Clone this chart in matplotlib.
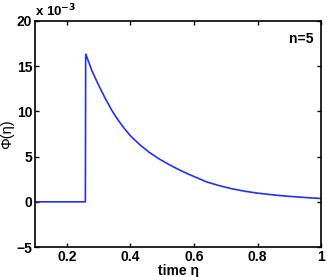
import matplotlib.pyplot as plt
import numpy as np

plt.rcParams['font.family'] = ['Liberation Sans', 'DejaVu Sans']

# time eta, values
eta = [0.1, 0.2585, 0.2595, 0.26, 0.28, 0.30, 0.32, 0.34, 0.36, 0.38, 0.40,
       0.43, 0.46, 0.49, 0.52, 0.55, 0.58, 0.61, 0.64, 0.68, 0.72, 0.76,
       0.80, 0.84, 0.88, 0.92, 0.96, 1.00]
# Phi(eta) in units of 1e-3
phi = [0.0, 0.0, 16.0, 16.3, 14.4, 12.9, 11.5, 10.2, 9.1, 8.15, 7.3,
       6.3, 5.45, 4.75, 4.15, 3.6, 3.1, 2.65, 2.2, 1.78, 1.44, 1.17,
       0.96, 0.8, 0.66, 0.55, 0.45, 0.37]

xticks = [0.2, 0.4, 0.6, 0.8, 1]
xticklabels = ['0.2', '0.4', '0.6', '0.8', '1']
yticks = [-5, 0, 5, 10, 15, 20]
yticklabels = ['\u22125', '0', '5', '10', '15', '20']

fig = plt.figure(figsize=(3.27, 2.77), dpi=100)
ax = fig.add_axes([0.107, 0.108, 0.875, 0.817])

ax.plot(eta, phi, color='#2030ff', lw=1.2, solid_joinstyle='round')

ax.set_xlim(0.1, 1)
ax.set_ylim(-5, 20)
ax.set_xticks(xticks)
ax.set_xticklabels(xticklabels, fontsize=10, fontweight='bold')
ax.set_yticks(yticks)
ax.set_yticklabels(yticklabels, fontsize=10, fontweight='bold')
ax.tick_params(direction='in', top=True, right=True, length=3, width=1, pad=2)
for s in ax.spines.values():
    s.set_linewidth(1.2)

ax.set_xlabel('time \u03b7', fontsize=10, fontweight='bold', labelpad=0)
ax.set_ylabel('\u03a6(\u03b7)', fontsize=10.5)
ax.yaxis.set_label_coords(-0.074, 0.5)

ax.text(0.0, 1.005, 'x 10$^{\\mathbf{-3}}$', transform=ax.transAxes,
        fontsize=9.5, fontweight='bold', ha='left', va='bottom')
ax.text(0.9, 18, 'n=5', fontsize=10, fontweight='bold', ha='left', va='center')

fig.savefig('out.png', dpi=100)
